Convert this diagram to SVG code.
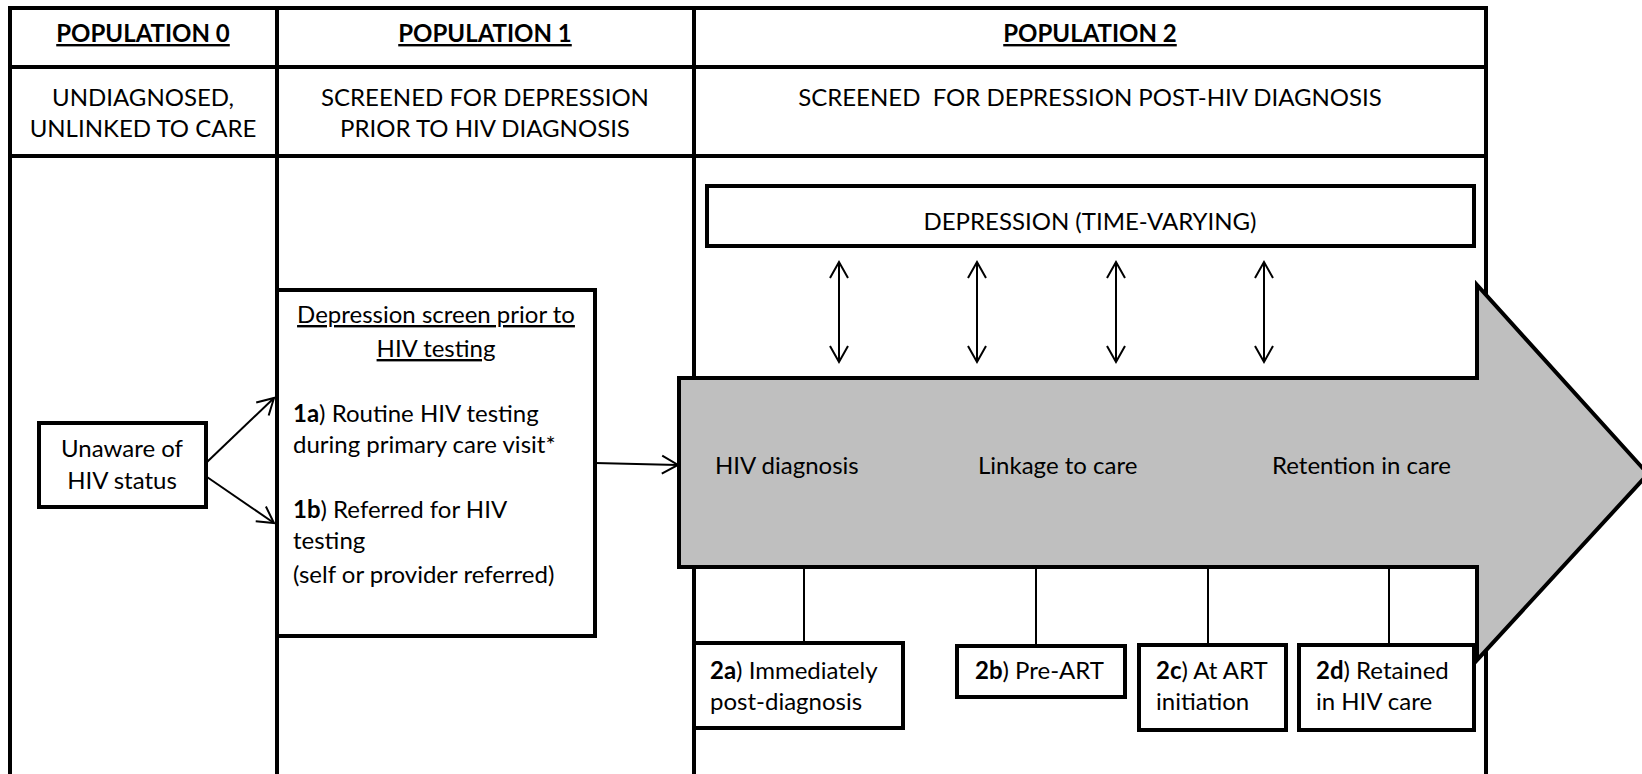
<svg xmlns="http://www.w3.org/2000/svg" width="1642" height="774" viewBox="0 0 1642 774">
<style>
  text { font-family: "Lato", "Liberation Sans", sans-serif; font-size: 24px; fill: #000; }
  .c { text-anchor: middle; }
  .b { font-weight: bold; }
  .u { text-decoration: underline; }
  .grid { stroke: #000; stroke-width: 4; fill: none; stroke-linecap: square; }
  .box { stroke: #000; stroke-width: 4; fill: #fff; }
  .conn { stroke: #000; stroke-width: 2; fill: none; }
  .arr { stroke: #000; stroke-width: 2; fill: none; marker-end: url(#ah); }
  .darr { stroke: #000; stroke-width: 2; fill: none; marker-start: url(#ah); marker-end: url(#ah); }
</style>
<defs>
  <marker id="ah" viewBox="-20 -12 24 24" refX="0" refY="0" markerWidth="24" markerHeight="24" markerUnits="userSpaceOnUse" orient="auto-start-reverse">
    <path d="M -16 -9 L 0 0 L -16 9" fill="none" stroke="#000" stroke-width="2"/>
  </marker>
</defs>
<rect width="1642" height="774" fill="#fff"/>

<g id="table">
  <path class="grid" d="M10 8 H1486 M10 67 H1486 M10 156 H1486 M10 8 V776 M277 8 V776 M694 8 V776 M1486 8 V776"/>
  <text class="c b u" x="143" y="42">POPULATION 0</text>
  <text class="c b u" x="485" y="42">POPULATION 1</text>
  <text class="c b u" x="1090" y="42">POPULATION 2</text>
  <text class="c" x="143" y="106">UNDIAGNOSED,</text>
  <text class="c" x="143" y="137">UNLINKED TO CARE</text>
  <text class="c" x="485" y="106">SCREENED FOR DEPRESSION</text>
  <text class="c" x="485" y="137">PRIOR TO HIV DIAGNOSIS</text>
  <text class="c" x="1090" y="106" xml:space="preserve">SCREENED  FOR DEPRESSION POST-HIV DIAGNOSIS</text>
</g>

<g id="depression">
  <rect class="box" x="707" y="186" width="767" height="60"/>
  <text class="c" x="1090" y="230">DEPRESSION (TIME-VARYING)</text>
</g>

<g id="unaware">
  <rect class="box" x="39" y="423" width="167" height="84"/>
  <text class="c" x="122" y="457">Unaware of</text>
  <text class="c" x="122" y="489">HIV status</text>
</g>

<g id="pop1box">
  <rect class="box" x="277" y="290" width="318" height="346"/>
  <text class="c u" x="436" y="323">Depression screen prior to</text>
  <text class="c u" x="436" y="357">HIV testing</text>
  <text x="293" y="422"><tspan class="b">1a</tspan>) Routine HIV testing</text>
  <text x="293" y="453">during primary care visit*</text>
  <text x="293" y="518"><tspan class="b">1b</tspan>) Referred for HIV</text>
  <text x="293" y="549">testing</text>
  <text x="293" y="583">(self or provider referred)</text>
</g>

<g id="cascade">
  <polygon points="679,378 1477,378 1477,285 1648,474 1477,660 1477,567 679,567" fill="#BFBFBF" stroke="#000" stroke-width="4" stroke-linejoin="miter"/>
  <text x="715" y="474">HIV diagnosis</text>
  <text x="978" y="474">Linkage to care</text>
  <text x="1272" y="474">Retention in care</text>
</g>

<g id="connectors">
  <line class="arr" x1="207" y1="462" x2="274" y2="398"/>
  <line class="arr" x1="207" y1="477" x2="274" y2="523"/>
  <line class="arr" x1="595" y1="463" x2="678" y2="465"/>
  <line class="darr" x1="839" y1="262" x2="839" y2="362"/>
  <line class="darr" x1="977" y1="262" x2="977" y2="362"/>
  <line class="darr" x1="1116" y1="262" x2="1116" y2="362"/>
  <line class="darr" x1="1264" y1="262" x2="1264" y2="362"/>
  <line class="conn" x1="804" y1="569" x2="804" y2="643"/>
  <line class="conn" x1="1036" y1="569" x2="1036" y2="646"/>
  <line class="conn" x1="1208" y1="569" x2="1208" y2="645"/>
  <line class="conn" x1="1389" y1="569" x2="1389" y2="645"/>
</g>

<g id="box2a">
  <rect class="box" x="694" y="643" width="209" height="85"/>
  <text x="710" y="679"><tspan class="b">2a</tspan>) Immediately</text>
  <text x="710" y="710">post-diagnosis</text>
</g>
<g id="box2b">
  <rect class="box" x="957" y="646" width="168" height="51"/>
  <text x="975" y="679"><tspan class="b">2b</tspan>) Pre-ART</text>
</g>
<g id="box2c">
  <rect class="box" x="1139" y="645" width="147" height="85"/>
  <text x="1156" y="679"><tspan class="b">2c</tspan>) At ART</text>
  <text x="1156" y="710">initiation</text>
</g>
<g id="box2d">
  <rect class="box" x="1299" y="645" width="175" height="85"/>
  <text x="1316" y="679"><tspan class="b">2d</tspan>) Retained</text>
  <text x="1316" y="710">in HIV care</text>
</g>
</svg>
